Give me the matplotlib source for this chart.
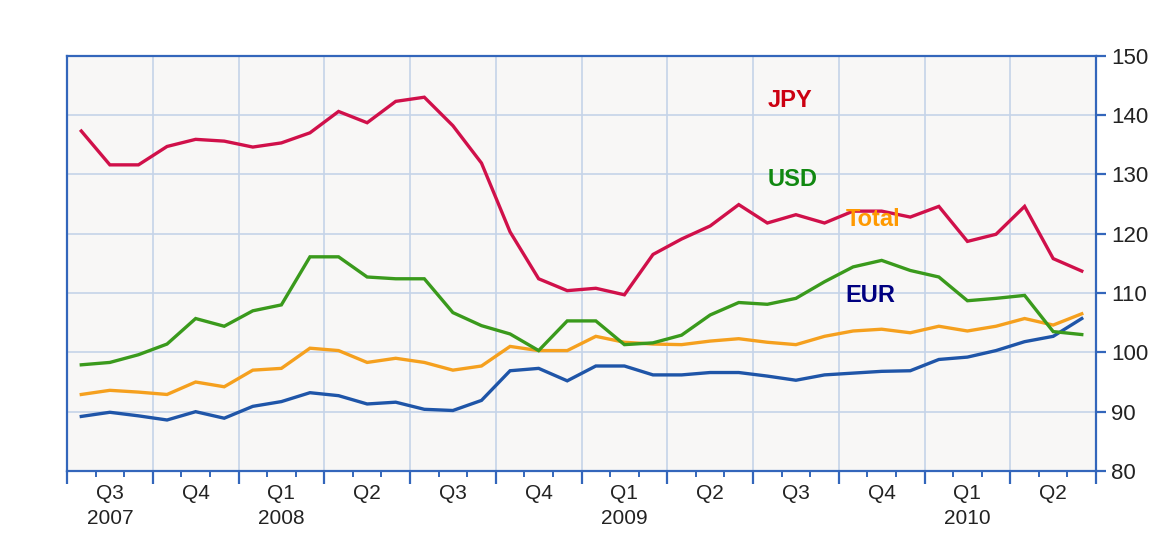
import matplotlib
matplotlib.use("Agg")
import matplotlib.pyplot as plt
import numpy as np

plt.rcParams['font.family'] = ['Liberation Sans', 'DejaVu Sans']

months = list(range(36))  # Jul 2007 .. Jun 2010
quarter_labels = ["Q3", "Q4", "Q1", "Q2", "Q3", "Q4", "Q1", "Q2", "Q3", "Q4", "Q1", "Q2"]
year_labels = {0: "2007", 2: "2008", 6: "2009", 10: "2010"}

jpy = [137.3, 131.6, 131.6, 134.7, 135.9, 135.6, 134.6, 135.3, 137.0, 140.6, 138.7, 142.3,
       143.0, 138.2, 131.9, 120.3, 112.4, 110.4, 110.8, 109.7, 116.5, 119.1, 121.3, 124.9,
       121.8, 123.2, 121.8, 123.8, 123.8, 122.8, 124.6, 118.7, 119.9, 124.6, 115.8, 113.7]
usd = [97.9, 98.3, 99.6, 101.4, 105.7, 104.4, 107.0, 108.0, 116.1, 116.1, 112.7, 112.4,
       112.4, 106.7, 104.5, 103.1, 100.3, 105.3, 105.3, 101.3, 101.6, 102.9, 106.3, 108.4,
       108.1, 109.1, 111.9, 114.4, 115.5, 113.8, 112.7, 108.7, 109.1, 109.6, 103.5, 103.0]
total = [92.9, 93.6, 93.3, 92.9, 95.0, 94.2, 97.0, 97.3, 100.7, 100.3, 98.3, 99.0,
         98.3, 97.0, 97.7, 101.0, 100.3, 100.3, 102.7, 101.7, 101.4, 101.3, 101.9, 102.3,
         101.7, 101.3, 102.7, 103.6, 103.9, 103.3, 104.4, 103.6, 104.4, 105.7, 104.6, 106.5]
eur = [89.2, 89.9, 89.3, 88.6, 90.0, 88.9, 90.9, 91.7, 93.2, 92.7, 91.3, 91.6,
       90.4, 90.2, 91.9, 96.9, 97.3, 95.2, 97.7, 97.7, 96.2, 96.2, 96.6, 96.6,
       96.0, 95.3, 96.2, 96.5, 96.8, 96.9, 98.8, 99.2, 100.3, 101.8, 102.7, 105.7]

series = [
    ("EUR", eur, "#1f55a8", "#000080", 27.6, 109.5),
    ("Total", total, "#f5a01e", "#ff9900", 27.7, 122.4),
    ("USD", usd, "#3a9a1c", "#118811", 24.9, 129.1),
    ("JPY", jpy, "#d0104a", "#cc0011", 24.8, 142.5),
]

fig = plt.figure(figsize=(11.59, 5.38), dpi=100)
ax = fig.add_axes([0.0578, 0.1245, 0.8879, 0.772])
ax.set_facecolor("#f8f7f6")

for name, vals, lc, tc, lx, ly in series:
    ax.plot(months, vals, color=lc, lw=2.4, solid_joinstyle='miter', zorder=3)
    ax.text(lx, ly, name, color=tc, fontsize=17, fontweight='bold',
            ha='center', va='center', zorder=4)

ax.set_xlim(-0.5, 35.5)
ax.set_ylim(80, 150)

spine_c = "#3366bb"
for s in ax.spines.values():
    s.set_color(spine_c)
    s.set_linewidth(1.6)

# y axis on right
ax.yaxis.tick_right()
ax.set_yticks(np.arange(80, 151, 10))
ax.tick_params(axis='y', which='major', direction='out', length=7, width=1.6,
               color=spine_c, labelsize=16, labelcolor="#222222", pad=4)

# x ticks: major at quarter boundaries, minor at month boundaries
qb = np.arange(-0.5, 36, 3)
mb = [m + 0.5 for m in range(35) if (m + 1) % 3 != 0]
ax.set_xticks(qb)
ax.set_xticks(mb, minor=True)
ax.set_xticklabels([])
ax.tick_params(axis='x', which='major', direction='out', length=9, width=1.6, color=spine_c)
ax.tick_params(axis='x', which='minor', direction='out', length=4, width=1.4, color=spine_c)

ax.grid(True, which='major', color="#c5d4e8", lw=1.2, zorder=1)
ax.set_axisbelow(True)

trans = ax.get_xaxis_transform()
for qi, ql in enumerate(quarter_labels):
    xc = qi * 3 + 1
    ax.text(xc, -0.032, ql, transform=trans, ha='center', va='top',
            fontsize=15, color="#222222")
    if qi in year_labels:
        ax.text(xc, -0.092, year_labels[qi], transform=trans, ha='center', va='top',
                fontsize=15, color="#222222")

fig.savefig("out.png", dpi=100, facecolor="white")
